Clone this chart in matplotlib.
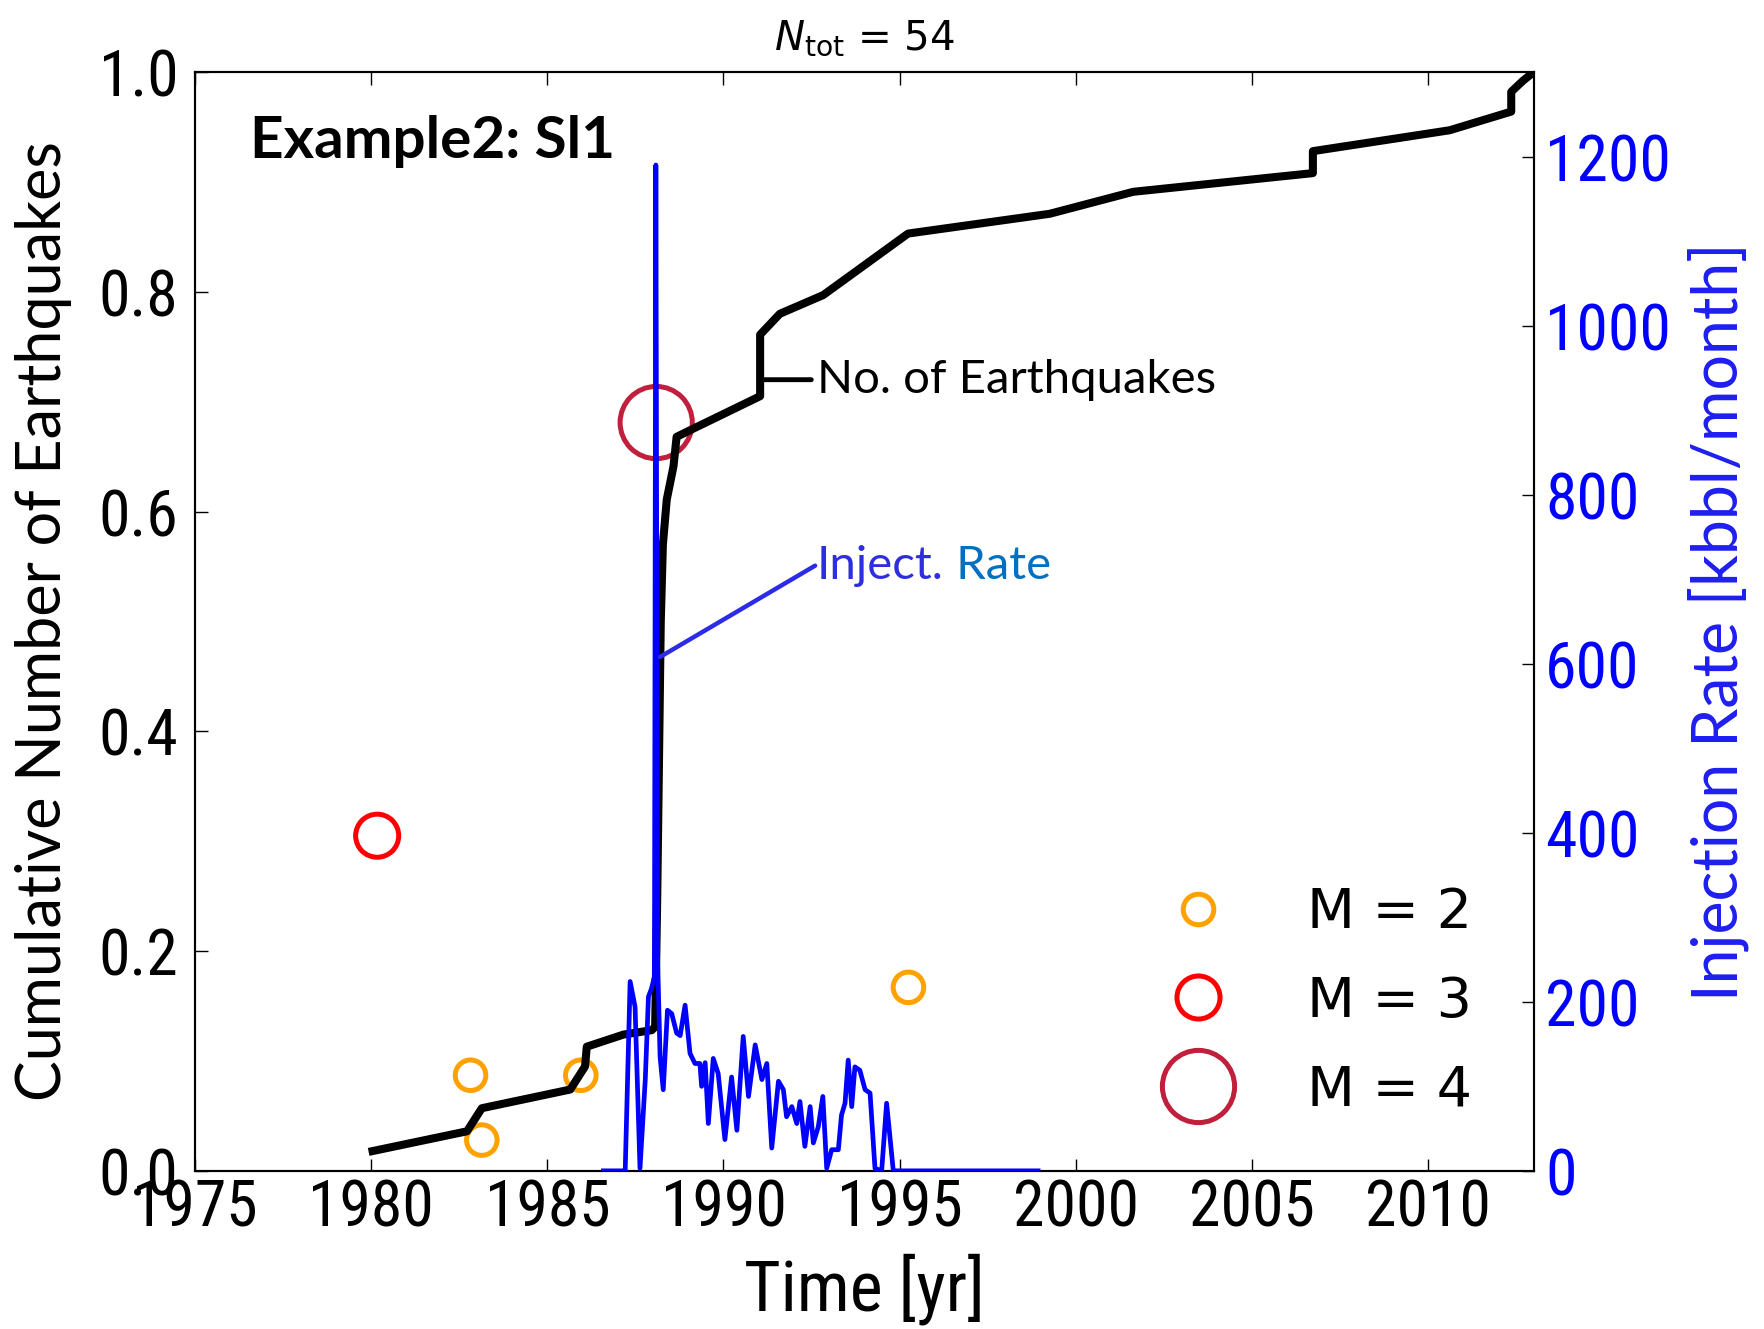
import matplotlib

matplotlib.use("Agg")
import matplotlib.pyplot as plt
from matplotlib import font_manager
from matplotlib.lines import Line2D
from matplotlib.textpath import TextPath

# Cumulative fraction of earthquakes (black curve)
cum_years = [1980.04, 1982.72, 1983.14, 1985.65, 1986.07, 1986.12, 1987.16, 1987.96,
             1988.06, 1988.12, 1988.18, 1988.22, 1988.28, 1988.39, 1988.58, 1988.67,
             1989.05, 1991.04, 1991.04, 1991.60, 1992.83, 1995.24, 1999.26, 2001.63,
             2006.73, 2006.73, 2010.61, 2012.36, 2012.36, 2012.69, 2013.00]
cum_frac = [0.018, 0.036, 0.057, 0.074, 0.095, 0.113, 0.124, 0.128,
            0.131, 0.250, 0.400, 0.500, 0.570, 0.611, 0.641, 0.668,
            0.674, 0.705, 0.761, 0.780, 0.797, 0.853, 0.871, 0.891,
            0.908, 0.928, 0.947, 0.964, 0.982, 0.992, 1.000]

# Monthly injection rate [kbbl/month]
inj_years = [1986.59, 1987.21, 1987.35, 1987.49, 1987.63, 1987.78, 1987.87, 1987.96,
             1988.04, 1988.08, 1988.13, 1988.20, 1988.29, 1988.41, 1988.53, 1988.67,
             1988.77, 1988.91, 1989.05, 1989.19, 1989.33, 1989.38, 1989.48, 1989.57,
             1989.71, 1989.85, 1990.04, 1990.23, 1990.38, 1990.56, 1990.71, 1990.90,
             1991.09, 1991.23, 1991.37, 1991.56, 1991.70, 1991.79, 1991.94, 1992.08,
             1992.17, 1992.31, 1992.46, 1992.55, 1992.69, 1992.82, 1992.93, 1993.07,
             1993.26, 1993.35, 1993.45, 1993.54, 1993.64, 1993.73, 1993.87, 1994.02,
             1994.16, 1994.30, 1994.49, 1994.63, 1994.82, 1998.93]
inj_rate = [0, 0, 224, 194, 3, 108, 206, 216,
            230, 1190, 250, 135, 96, 190, 186, 163,
            160, 196, 139, 127, 127, 100, 128, 56,
            133, 115, 37, 111, 48, 159, 88, 149,
            108, 127, 27, 106, 96, 64, 76, 56,
            82, 29, 76, 33, 52, 88, 3, 25,
            25, 66, 80, 131, 76, 123, 119, 96,
            92, 3, 0, 80, 0, 0]

# Individual events and their magnitudes
event_years = [1980.17, 1982.82, 1983.14, 1985.95, 1988.09, 1995.25]
event_y = [0.305, 0.087, 0.028, 0.087, 0.681, 0.167]
event_mag = [3, 2, 2, 2, 4, 2]
n_total = 54

x_ticks = [1975, 1980, 1985, 1990, 1995, 2000, 2005, 2010]
left_ticks = [0.0, 0.2, 0.4, 0.6, 0.8, 1.0]
right_ticks = [0, 200, 400, 600, 800, 1000, 1200]

# Marker style per magnitude (colour, diameter in points)
mag_style = {2: ("#FFA200", 22), 3: ("#FF0000", 31), 4: ("#C0203C", 52)}

CALIBRI_LIKE = ["Lato", "DejaVu Sans"]
DPI = 100


def pick_narrow_font():
    # The original ticks use a narrow sans; take whatever condensed face exists.
    fonts = font_manager.fontManager.ttflist

    def regular(f):
        return f.style == "normal" and str(f.weight) in ("400", "normal", "regular", "book")

    for name in ["Liberation Sans Narrow", "DejaVu Sans Condensed", "Roboto Condensed",
                 "Open Sans Condensed", "Noto Sans Condensed"]:
        for f in fonts:
            if f.name == name and regular(f):
                return f.fname
    for f in fonts:
        if f.stretch in ("condensed", "semi-condensed", "extra-condensed") and regular(f):
            return f.fname
    return None


narrow_file = pick_narrow_font()


def narrow_prop(sample, width_px, max_height_px):
    # font size that gives the sample text the ink width seen in the reference
    if narrow_file:
        base = font_manager.FontProperties(fname=narrow_file)
    else:
        base = font_manager.FontProperties(family="DejaVu Sans")
    ext = TextPath((0, 0), sample, size=1, prop=base).get_extents()
    size_px = min(width_px / ext.width, max_height_px / ext.height)
    prop = base.copy()
    prop.set_size(size_px * 72 / DPI)
    return prop


tick_prop = narrow_prop("1975", 118, 52)
xlabel_prop = narrow_prop("Time", 134, 54)

fig = plt.figure(figsize=(17.65, 13.29), dpi=DPI)
ax = fig.add_axes([0.1105, 0.119, 0.7585, 0.8268])
ax2 = ax.twinx()

# scatter of events, drawn below the curves
for mag in sorted(mag_style):
    color, size = mag_style[mag]
    xs = [x for x, m in zip(event_years, event_mag) if m == mag]
    ys = [y for y, m in zip(event_y, event_mag) if m == mag]
    ax.scatter(xs, ys, s=size ** 2, facecolors="none", edgecolors=color,
               linewidths=3.6, zorder=2)

ax.plot(cum_years, cum_frac, color="black", lw=5.8, zorder=3)
ax2.plot(inj_years, inj_rate, color="blue", lw=3.4, zorder=3)

ax.set_xlim(1975, 2013)
ax.set_ylim(0, 1.0)
ax2.set_ylim(0, 1300)

ax.set_xticks(x_ticks)
ax.set_yticks(left_ticks)
ax.set_yticklabels([f"{v:.1f}" for v in left_ticks])
ax2.set_yticks(right_ticks)

for label in ax.get_xticklabels() + ax.get_yticklabels():
    label.set_fontproperties(tick_prop)
for label in ax2.get_yticklabels():
    label.set_fontproperties(tick_prop)
    label.set_color("blue")

ax.tick_params(axis="x", which="both", direction="in", top=True, length=9, width=1, pad=5)
ax.tick_params(axis="y", direction="in", length=9, width=1, pad=12)
ax2.tick_params(axis="y", direction="in", length=9, width=1, pad=8)
for spine in list(ax.spines.values()) + list(ax2.spines.values()):
    spine.set_linewidth(1.5)

ax.set_xlabel("Time [yr]", fontproperties=xlabel_prop)
ax.xaxis.set_label_coords(0.5, -0.075)
ax.set_ylabel("Cumulative Number of Earthquakes", family=CALIBRI_LIKE, fontsize=44)
ax.yaxis.set_label_coords(-0.092, 0.5)
ax2.set_ylabel("Injection Rate [kbbl/month]", family=CALIBRI_LIKE, fontsize=45, color="#1E1EF0")
ax2.yaxis.set_label_coords(1.115, 0.5)

ax.set_title(r"$N_{\mathrm{tot}}$ = " + str(n_total), fontsize=29, pad=16)

ax.text(0.041, 0.922, "Example2: Sl1", transform=ax.transAxes, family=CALIBRI_LIKE,
        fontsize=42, fontweight="bold", va="baseline", ha="left")

ax.annotate("No. of Earthquakes", xy=(1991.1, 0.72), xytext=(1992.65, 0.72),
            family=CALIBRI_LIKE, fontsize=34, va="center", ha="left",
            arrowprops=dict(arrowstyle="-", color="black", lw=3.5,
                            shrinkA=2, shrinkB=0))

# injection-rate callout: connector, then "Inject." and "Rate" in two blues
ax2.annotate("", xy=(1988.2, 608), xytext=(1992.6, 716),
             arrowprops=dict(arrowstyle="-", color="#2B2BE8", lw=3.2,
                             shrinkA=0, shrinkB=0))
t_inj = ax2.text(1992.65, 716, "Inject.", family=CALIBRI_LIKE, fontsize=34,
                 color="#2E2EE0", va="center", ha="left", zorder=5)
ax2.annotate(" Rate", xy=(1, 0), xycoords=t_inj, family=CALIBRI_LIKE, fontsize=34,
             color="#0070C0", va="bottom", ha="left")

handles = [Line2D([], [], linestyle="none", marker="o", markerfacecolor="none",
                  markeredgecolor=mag_style[m][0], markersize=mag_style[m][1],
                  markeredgewidth=3.6) for m in sorted(mag_style)]
labels = [f"M = {m}" for m in sorted(mag_style)]
ax2.legend(handles, labels, loc="upper left", bbox_to_anchor=(0.708, 0.259),
           frameon=False, fontsize=40, handlelength=2.0, handletextpad=0.95,
           labelspacing=0.62, borderpad=0, borderaxespad=0)

fig.savefig("out.png", dpi=DPI)
